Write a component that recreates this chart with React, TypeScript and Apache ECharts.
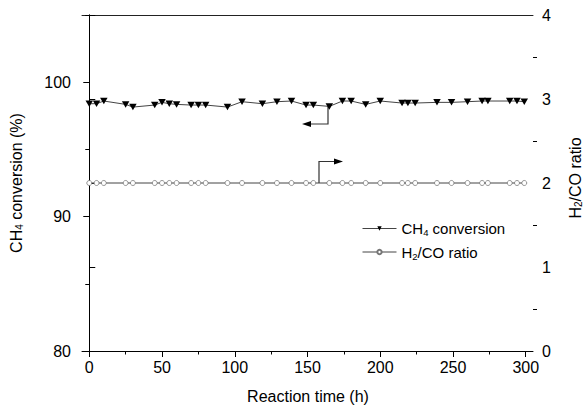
import React, { useEffect, useRef } from "react";
import * as echarts from "echarts";

const times = [0, 5, 10, 25, 30, 45, 50, 55, 60, 70, 75, 80, 95, 105, 119, 129, 139, 149, 154, 165, 174, 180, 190, 200, 215, 219, 224, 239, 249, 260, 270, 274, 289, 294, 299];
const ch4Conversion = [98.4, 98.4, 98.6, 98.35, 98.15, 98.3, 98.5, 98.4, 98.35, 98.3, 98.3, 98.3, 98.15, 98.55, 98.4, 98.55, 98.6, 98.3, 98.3, 98.2, 98.6, 98.6, 98.35, 98.6, 98.45, 98.45, 98.45, 98.5, 98.5, 98.55, 98.6, 98.6, 98.6, 98.6, 98.55];
const h2coRatio = [2.0, 2.0, 2.0, 2.0, 2.0, 2.0, 2.0, 2.0, 2.0, 2.0, 2.0, 2.0, 2.0, 2.0, 2.0, 2.0, 2.0, 2.0, 2.0, 2.0, 2.0, 2.0, 2.0, 2.0, 2.0, 2.0, 2.0, 2.0, 2.0, 2.0, 2.0, 2.0, 2.0, 2.0, 2.0];

const xMajorTicks = [0, 50, 100, 150, 200, 250, 300];
const xMinorTicks = [25, 75, 125, 175, 225, 275];
const yLeftMajorTicks = [80, 90, 100];
const yLeftMinorTicks = [85, 95, 105];
const yRightMajorTicks = [0, 1, 2, 3, 4];
const yRightMinorTicks = [0.5, 1.5, 2.5, 3.5];

const FONT = "'Liberation Sans', Arial, Helvetica, sans-serif";

const rich = {
  a: { fontSize: 16, fontFamily: FONT, color: "#000", lineHeight: 16 },
  s: { fontSize: 10, fontFamily: FONT, color: "#000", lineHeight: 10, verticalAlign: "bottom" as const },
};
const richLegend = {
  a: { fontSize: 15, fontFamily: FONT, color: "#000", lineHeight: 18 },
  s: { fontSize: 9.5, fontFamily: FONT, color: "#000", lineHeight: 11, verticalAlign: "bottom" as const },
};

export default function App() {
  const ref = useRef<HTMLDivElement>(null);
  useEffect(() => {
    if (!ref.current) return;
    const chart = echarts.init(ref.current, null, { renderer: "svg" });
    const axisLine = { show: true, lineStyle: { color: "#000", width: 1 } };
    const labelStyle = { color: "#000", fontSize: 16, fontFamily: FONT };
    const option: any = {
      animation: false,
      backgroundColor: "#fff",
      grid: { left: 82, right: 51, top: 15, bottom: 54, containLabel: false },
      legend: {
        orient: "vertical",
        left: 357,
        top: 216,
        itemWidth: 34,
        itemHeight: 5.5,
        itemGap: 7,
        lineStyle: { width: 1, color: "#444" },
        textStyle: { fontSize: 15, fontFamily: FONT, color: "#000", rich: richLegend },
        formatter: (name: string) =>
          name === "CH4 conversion" ? "{a|CH}{s|4}{a| conversion}" : "{a|H}{s|2}{a|/CO ratio}",
        data: ["CH4 conversion", "H2/CO ratio"],
      },
      xAxis: [
        {
          type: "value",
          min: -5,
          max: 305,
          position: "bottom",
          axisLine,
          splitLine: { show: false },
          axisTick: { show: true, length: 6, customValues: xMajorTicks, lineStyle: { color: "#000" } },
          axisLabel: { customValues: xMajorTicks, margin: 8, ...labelStyle },
        },
        {
          type: "value",
          min: -5,
          max: 305,
          position: "bottom",
          axisLine: { show: false },
          splitLine: { show: false },
          axisTick: { show: true, length: 3.5, customValues: xMinorTicks, lineStyle: { color: "#000" } },
          axisLabel: { show: false },
        },
        {
          type: "value",
          min: -5,
          max: 305,
          position: "top",
          axisLine: { show: true, lineStyle: { color: "#222", width: 1 } },
          splitLine: { show: false },
          axisTick: { show: false },
          axisLabel: { show: false },
        },
      ],
      yAxis: [
        {
          type: "value",
          min: 80,
          max: 105,
          position: "left",
          axisLine,
          splitLine: { show: false },
          axisTick: { show: true, length: 6, customValues: yLeftMajorTicks, lineStyle: { color: "#000" } },
          axisLabel: { customValues: yLeftMajorTicks, margin: 11, ...labelStyle },
        },
        {
          type: "value",
          min: 0,
          max: 4,
          position: "right",
          axisLine,
          splitLine: { show: false },
          axisTick: { show: true, length: 6, customValues: yRightMajorTicks, lineStyle: { color: "#000" } },
          axisLabel: { customValues: yRightMajorTicks, margin: 9, ...labelStyle },
        },
        {
          type: "value",
          min: 80,
          max: 105,
          position: "left",
          axisLine: { show: false },
          splitLine: { show: false },
          axisTick: { show: true, length: 4, customValues: yLeftMinorTicks, lineStyle: { color: "#000" } },
          axisLabel: { show: false },
        },
        {
          type: "value",
          min: 0,
          max: 4,
          position: "right",
          axisLine: { show: false },
          splitLine: { show: false },
          axisTick: { show: true, length: 4, customValues: yRightMinorTicks, lineStyle: { color: "#000" } },
          axisLabel: { show: false },
        },
      ],
      series: [
        {
          name: "CH4 conversion",
          type: "line",
          xAxisIndex: 0,
          yAxisIndex: 0,
          data: times.map((t, i) => [t, ch4Conversion[i]]),
          symbol: "triangle",
          symbolRotate: 180,
          symbolSize: [7.5, 6.5],
          itemStyle: { color: "#000" },
          lineStyle: { color: "#444", width: 1 },
          z: 3,
        },
        {
          name: "H2/CO ratio",
          type: "line",
          xAxisIndex: 0,
          yAxisIndex: 1,
          data: times.map((t, i) => [t, h2coRatio[i]]),
          symbol: "circle",
          symbolSize: 5,
          showAllSymbol: true,
          itemStyle: { color: "#fff", borderColor: "#777", borderWidth: 0.8 },
          lineStyle: { color: "#444", width: 1 },
          z: 2,
        },
      ],
      graphic: [
        {
          type: "text",
          x: 16,
          y: 183,
          rotation: Math.PI / 2,
          style: {
            text: "{a|CH}{s|4}{a| conversion (%)}",
            rich,
            align: "center",
            verticalAlign: "middle",
          },
        },
        {
          type: "text",
          x: 575,
          y: 178,
          rotation: Math.PI / 2,
          style: {
            text: "{a|H}{s|2}{a|/CO ratio}",
            rich,
            align: "center",
            verticalAlign: "middle",
          },
        },
        {
          type: "text",
          x: 308,
          y: 396,
          style: {
            text: "Reaction time (h)",
            font: `16px ${FONT}`,
            fill: "#000",
            align: "center",
            verticalAlign: "middle",
          },
        },
        {
          type: "polyline",
          shape: { points: [[328, 106], [328, 124], [308, 124]] },
          style: { stroke: "#333", lineWidth: 1.2, fill: "none" },
        },
        {
          type: "polygon",
          shape: { points: [[302, 124], [311, 121], [311, 127]] },
          style: { fill: "#000" },
        },
        {
          type: "polyline",
          shape: { points: [[319, 183], [319, 161.5], [336, 161.5]] },
          style: { stroke: "#333", lineWidth: 1.2, fill: "none" },
        },
        {
          type: "polygon",
          shape: { points: [[343, 161.5], [334, 158.5], [334, 164.5]] },
          style: { fill: "#000" },
        },
      ],
    };
    chart.setOption(option);
    return () => chart.dispose();
  }, []);
  return (
    <div
      ref={ref}
      style={{ position: "fixed", left: 0, top: 0, width: 584, height: 405, background: "#fff" }}
    />
  );
}
